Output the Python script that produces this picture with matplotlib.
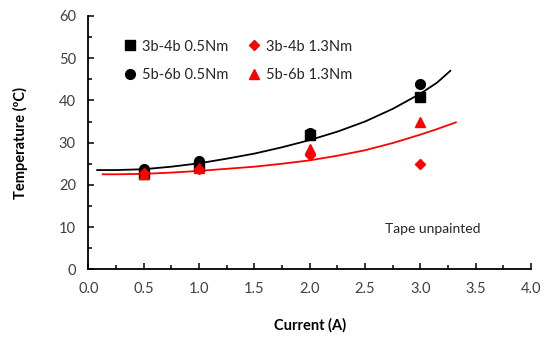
import matplotlib
matplotlib.use("Agg")
import matplotlib.pyplot as plt
from matplotlib.ticker import MultipleLocator

plt.rcParams['font.family'] = ['Lato', 'DejaVu Sans']

current = [0.5, 1.0, 2.0, 3.0]
t_3b4b_05 = [22.6, 24.5, 31.8, 40.7]
t_5b6b_05 = [23.8, 25.7, 32.3, 44.0]
t_3b4b_13 = [22.8, 23.8, 27.0, 25.0]
t_5b6b_13 = [22.5, 24.0, 28.5, 34.8]

trend_black_x = [0.08, 0.25, 0.5, 0.75, 1.0, 1.25, 1.5, 1.75, 2.0, 2.25, 2.5, 2.75, 3.0, 3.15, 3.27]
trend_black_y = [23.5, 23.5, 23.7, 24.3, 25.1, 26.2, 27.4, 28.9, 30.6, 32.6, 35.0, 38.0, 41.6, 44.2, 47.0]
trend_red_x = [0.13, 0.25, 0.5, 0.75, 1.0, 1.25, 1.5, 1.75, 2.0, 2.25, 2.5, 2.75, 3.0, 3.15, 3.32]
trend_red_y = [22.5, 22.5, 22.6, 22.9, 23.3, 23.8, 24.3, 25.0, 25.8, 26.9, 28.2, 29.9, 31.9, 33.2, 34.8]

fig = plt.figure(figsize=(5.5, 3.4), dpi=100)
ax = fig.add_axes([0.1606, 0.208, 0.805, 0.745])

ax.plot(trend_black_x, trend_black_y, color='black', lw=1.3, zorder=2)
ax.plot(trend_red_x, trend_red_y, color='#ff0000', lw=1.3, zorder=2)

ax.plot(current, t_3b4b_05, 's', color='black', ms=6.5, label='3b-4b 0.5Nm', zorder=3)
ax.plot(current, t_5b6b_05, 'o', color='black', ms=7, label='5b-6b 0.5Nm', zorder=3)
ax.plot(current, t_3b4b_13, 'D', color='#ff0000', ms=5, label='3b-4b 1.3Nm', zorder=4)
ax.plot(current, t_5b6b_13, '^', color='#ff0000', ms=7, label='5b-6b 1.3Nm', zorder=4)

ax.set_xlim(0, 4.0)
ax.set_ylim(0, 60)
ax.xaxis.set_major_locator(MultipleLocator(0.5))
ax.xaxis.set_minor_locator(MultipleLocator(0.25))
ax.yaxis.set_major_locator(MultipleLocator(10))
ax.yaxis.set_minor_locator(MultipleLocator(5))
ax.xaxis.set_major_formatter(plt.FuncFormatter(lambda v, p: f"{v:.1f}"))

for s in ['top', 'right']:
    ax.spines[s].set_visible(False)
for s in ['left', 'bottom']:
    ax.spines[s].set_linewidth(1.3)
    ax.spines[s].set_color('black')

ax.tick_params(which='both', direction='in', colors='black', labelcolor='#404040', labelsize=10.5)
ax.tick_params(axis='x', which='major', length=4, width=1.1, pad=9)
ax.tick_params(axis='y', which='major', length=4, width=1.1, pad=9)
ax.tick_params(which='minor', length=3, width=1.1)

ax.set_xlabel('Current (A)', fontsize=10.5, fontweight='bold', labelpad=16)
ax.set_ylabel('Temperature (ºC)', fontsize=10.5, fontweight='bold', labelpad=22)

ax.text(2.68, 9.5, 'Tape unpainted', fontsize=10, color='#262626', va='center', ha='left')

leg = ax.legend(ncol=2, loc='upper left', bbox_to_anchor=(0.062, 0.93), frameon=False,
                fontsize=10.5, handletextpad=0.3, columnspacing=1.2, labelspacing=1.0,
                handlelength=1.1, borderaxespad=0)
for t in leg.get_texts():
    t.set_color('#262626')

fig.savefig('out.png', dpi=100)
